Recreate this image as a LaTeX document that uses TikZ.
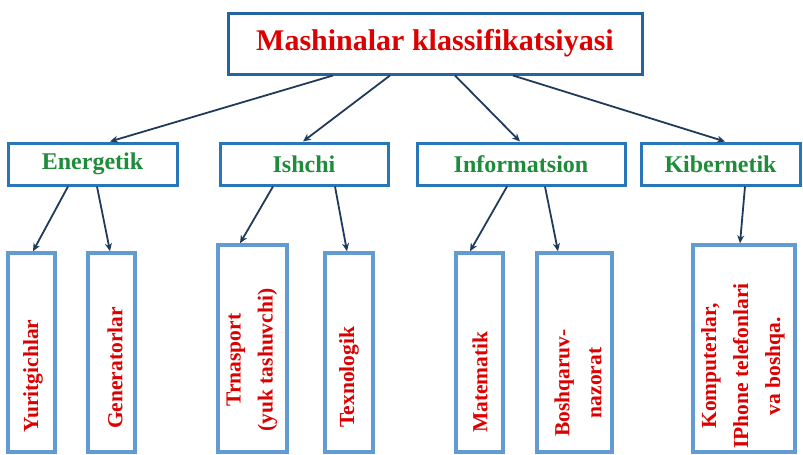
\documentclass[tikz,border=0pt]{standalone}
\usepackage{fontspec}
\setmainfont{Liberation Serif}
\usetikzlibrary{arrows.meta}

\definecolor{topblue}{RGB}{36,100,160}
\definecolor{midblue}{RGB}{40,118,184}
\definecolor{lowblue}{RGB}{98,154,210}
\definecolor{arrowblue}{RGB}{32,58,92}
\definecolor{txtred}{RGB}{220,0,0}
\definecolor{txtgreen}{RGB}{30,140,58}

\begin{document}
\begin{tikzpicture}[x=1pt,y=-1pt,
    topbox/.style={draw=topblue,line width=3pt,fill=white,minimum width=414pt,minimum height=61pt,
        font=\bfseries\fontsize{30}{34}\selectfont,text=txtred},
    midbox/.style={draw=midblue,line width=3pt,fill=white,minimum height=42pt,
        font=\bfseries\fontsize{24}{28}\selectfont,text=txtgreen},
    lowbox/.style={draw=lowblue,line width=3.5pt,fill=white,minimum width=47pt,minimum height=199pt},
    vtext/.style={rotate=90,align=center,text=txtred,font=\bfseries\fontsize{21.5}{32}\selectfont},
    arr/.style={draw=arrowblue,line width=1.8pt,-{Stealth[length=8pt,width=7pt]}}]
    \useasboundingbox (0,0) rectangle (803,455);

    % Sarlavha
    \node[topbox] (top) at (435,43.5) {Mashinalar klassifikatsiyasi};

    % Ikkinchi qator
    \node[midbox,minimum width=169pt] (energ) at (92.5,164) {Energetik};
    \node[midbox,minimum width=168pt] (ishchi) at (304,164) {Ishchi};
    \node[midbox,minimum width=208pt] (inform) at (521,164) {Informatsion};
    \node[midbox,minimum width=159pt] (kiber) at (720.5,164) {Kibernetik};

    % Uchinchi qator
    \node[lowbox] (yurit) at (31.5,352.5) {};
    \node[lowbox] (gener) at (111.5,352.5) {};
    \node[lowbox,minimum width=69pt,minimum height=207pt] (trans) at (252.5,348.5) {};
    \node[lowbox,minimum width=48pt] (texno) at (349,352.5) {};
    \node[lowbox] (matem) at (479.5,352.5) {};
    \node[lowbox,minimum width=75pt] (boshq) at (574.5,352.5) {};
    \node[lowbox,minimum width=102pt,minimum height=207pt] (kompu) at (744,348.5) {};

    \node[vtext] (yuritT) at (33,376) {Yuritgichlar};
    \node[vtext] (generT) at (115,368) {Generatorlar};
    \node[vtext] (transT) at (252,360) {Trnasport\\(yuk tashuvchi)};
    \node[vtext] (texnoT) at (349,377) {Texnologik};
    \node[vtext] (matemT) at (480,382) {Matematik};
    \node[vtext] (boshqT) at (578,383) {Boshqaruv-\\nazorat};
    \node[vtext] (kompuT) at (743,366) {Komputerlar,\\IPhone telefonlari\\va boshqa.};

    % Strelkalar
    \draw[arr] ([xshift=-102pt]top.south) -- ([xshift=17.5pt]energ.north);
    \draw[arr] ([xshift=-45pt]top.south) -- ([xshift=-1pt]ishchi.north);
    \draw[arr] ([xshift=20pt]top.south) -- ([xshift=-1pt]inform.north);
    \draw[arr] ([xshift=78pt]top.south) -- ([xshift=4.5pt]kiber.north);

    \draw[arr] ([xshift=-24.5pt]energ.south) -- ([xshift=1.5pt]yurit.north);
    \draw[arr] ([xshift=4.5pt]energ.south) -- ([xshift=-1.5pt]gener.north);
    \draw[arr] ([xshift=-31pt]ishchi.south) -- ([xshift=-12.5pt]trans.north);
    \draw[arr] ([xshift=31pt]ishchi.south) -- ([xshift=-2pt]texno.north);
    \draw[arr] ([xshift=-14pt]inform.south) -- ([xshift=-9.5pt]matem.north);
    \draw[arr] ([xshift=24pt]inform.south) -- ([xshift=-16.5pt]boshq.north);
    \draw[arr] ([xshift=24.5pt]kiber.south) -- ([xshift=-4pt]kompu.north);
\end{tikzpicture}
\end{document}
